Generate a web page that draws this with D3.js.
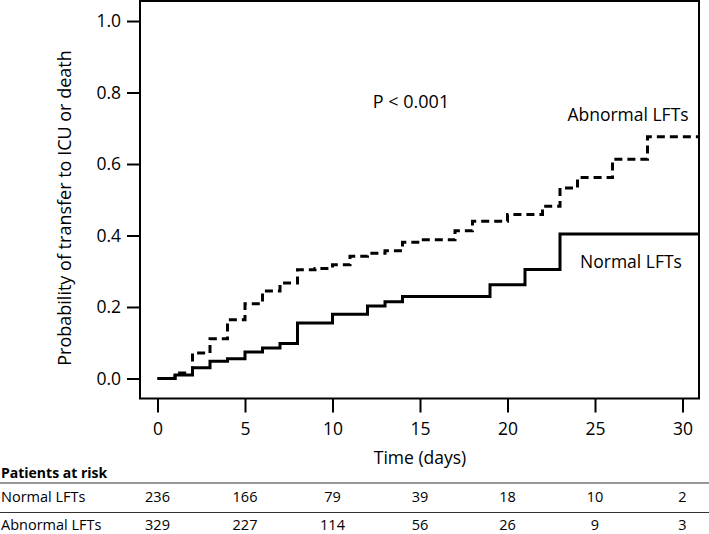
<!DOCTYPE html>
<html>
<head>
<meta charset="utf-8">
<script src="https://cdn.jsdelivr.net/npm/d3@7"></script>
<style>
  body { margin: 0; background: #fff; }
  svg text { font-family: "Open Sans", sans-serif; fill: #000; }
</style>
</head>
<body>
<svg width="709" height="534"></svg>
<script>
// time points (days) and cumulative probability for each group
var normalTimes = [0, 1, 2, 3, 4, 5, 6, 7, 8, 10, 12, 13, 14, 19, 21, 23, 31];
var normalProb  = [0, 0.01, 0.03, 0.048, 0.055, 0.074, 0.085, 0.098, 0.155, 0.18, 0.203, 0.215, 0.229, 0.262, 0.305, 0.404, 0.404];

var abnormalTimes = [0, 1, 2, 3, 4, 5, 6, 7, 8, 9, 10, 11, 12, 13, 14, 15, 17, 18, 20, 22, 23, 24, 26, 28, 31];
var abnormalProb  = [0, 0.015, 0.071, 0.111, 0.164, 0.209, 0.245, 0.267, 0.304, 0.308, 0.318, 0.342, 0.35, 0.357, 0.381, 0.388, 0.413, 0.44, 0.459, 0.482, 0.533, 0.562, 0.613, 0.676, 0.676];

var xTicks = [0, 5, 10, 15, 20, 25, 30];
var yTicks = [0, 0.2, 0.4, 0.6, 0.8, 1.0];

var riskLabels = ['Normal LFTs', 'Abnormal LFTs'];
var riskNormal = [236, 166, 79, 39, 18, 10, 2];
var riskAbnormal = [329, 227, 114, 56, 26, 9, 3];

(function draw() {
  var svg = d3.select('svg');
  var left = 140, right = 699, top = 1, bottom = 398.5;

  var x = d3.scaleLinear().domain([-1, 31]).range([left, right + 1]);
  var y = d3.scaleLinear().domain([-0.056, 1.056]).range([bottom, top]);

  // frame
  svg.append('rect')
    .attr('x', left).attr('y', top)
    .attr('width', right - left).attr('height', bottom - top)
    .attr('fill', 'none').attr('stroke', '#000').attr('stroke-width', 2);

  // axes
  var yAxis = svg.append('g')
    .attr('transform', 'translate(' + left + ',0)')
    .call(d3.axisLeft(y).tickValues(yTicks).tickFormat(d3.format('.1f')).tickSize(13).tickPadding(6));
  var xAxis = svg.append('g')
    .attr('transform', 'translate(0,' + bottom + ')')
    .call(d3.axisBottom(x).tickValues(xTicks).tickSize(14).tickPadding(10));

  [xAxis, yAxis].forEach(function (g) {
    g.select('.domain').remove();
    g.selectAll('line').attr('stroke', '#000').attr('stroke-width', 2);
    g.selectAll('text').style('font-family', '"Open Sans", sans-serif').style('font-size', '17.5px').attr('fill', '#000');
  });

  // curves
  var line = d3.line()
    .x(function (d) { return x(d[0]); })
    .y(function (d) { return y(d[1]); })
    .curve(d3.curveStepAfter);

  svg.append('path')
    .datum(d3.zip(normalTimes, normalProb))
    .attr('d', line)
    .attr('fill', 'none').attr('stroke', '#000').attr('stroke-width', 3);

  svg.append('path')
    .datum(d3.zip(abnormalTimes, abnormalProb))
    .attr('d', line)
    .attr('fill', 'none').attr('stroke', '#000').attr('stroke-width', 3)
    .attr('stroke-dasharray', '8,5');

  // annotations
  svg.append('text').attr('x', 411).attr('y', 108).attr('text-anchor', 'middle')
    .style('font-size', '18px').text('P < 0.001');
  svg.append('text').attr('x', 628).attr('y', 121).attr('text-anchor', 'middle')
    .style('font-size', '17.5px').text('Abnormal LFTs');
  svg.append('text').attr('x', 631).attr('y', 268).attr('text-anchor', 'middle')
    .style('font-size', '17.5px').text('Normal LFTs');

  // axis titles
  svg.append('text').attr('x', x(15)).attr('y', 464).attr('text-anchor', 'middle')
    .style('font-size', '17.5px').text('Time (days)');
  svg.append('text')
    .attr('transform', 'translate(71,208) rotate(-90)')
    .attr('text-anchor', 'middle')
    .style('font-size', '18px').text('Probability of transfer to ICU or death');

  // risk table
  svg.append('text').attr('x', 1).attr('y', 478).style('font-size', '14px').style('font-weight', 'bold')
    .text('Patients at risk');
  [483, 512.5].forEach(function (yy) {
    svg.append('line').attr('x1', 0).attr('x2', 709).attr('y1', yy).attr('y2', yy)
      .attr('stroke', '#333').attr('stroke-width', 1.2);
  });

  var rows = [riskNormal, riskAbnormal];
  var rowBase = [502, 530];
  rows.forEach(function (vals, r) {
    svg.append('text').attr('x', 1).attr('y', rowBase[r]).style('font-size', '14.5px').text(riskLabels[r]);
    svg.selectAll(null).data(vals).enter().append('text')
      .attr('x', function (d, i) { return x(xTicks[i]); })
      .attr('y', rowBase[r])
      .attr('text-anchor', 'middle')
      .style('font-size', '14.5px')
      .text(function (d) { return d; });
  });
})();
</script>
</body>
</html>
